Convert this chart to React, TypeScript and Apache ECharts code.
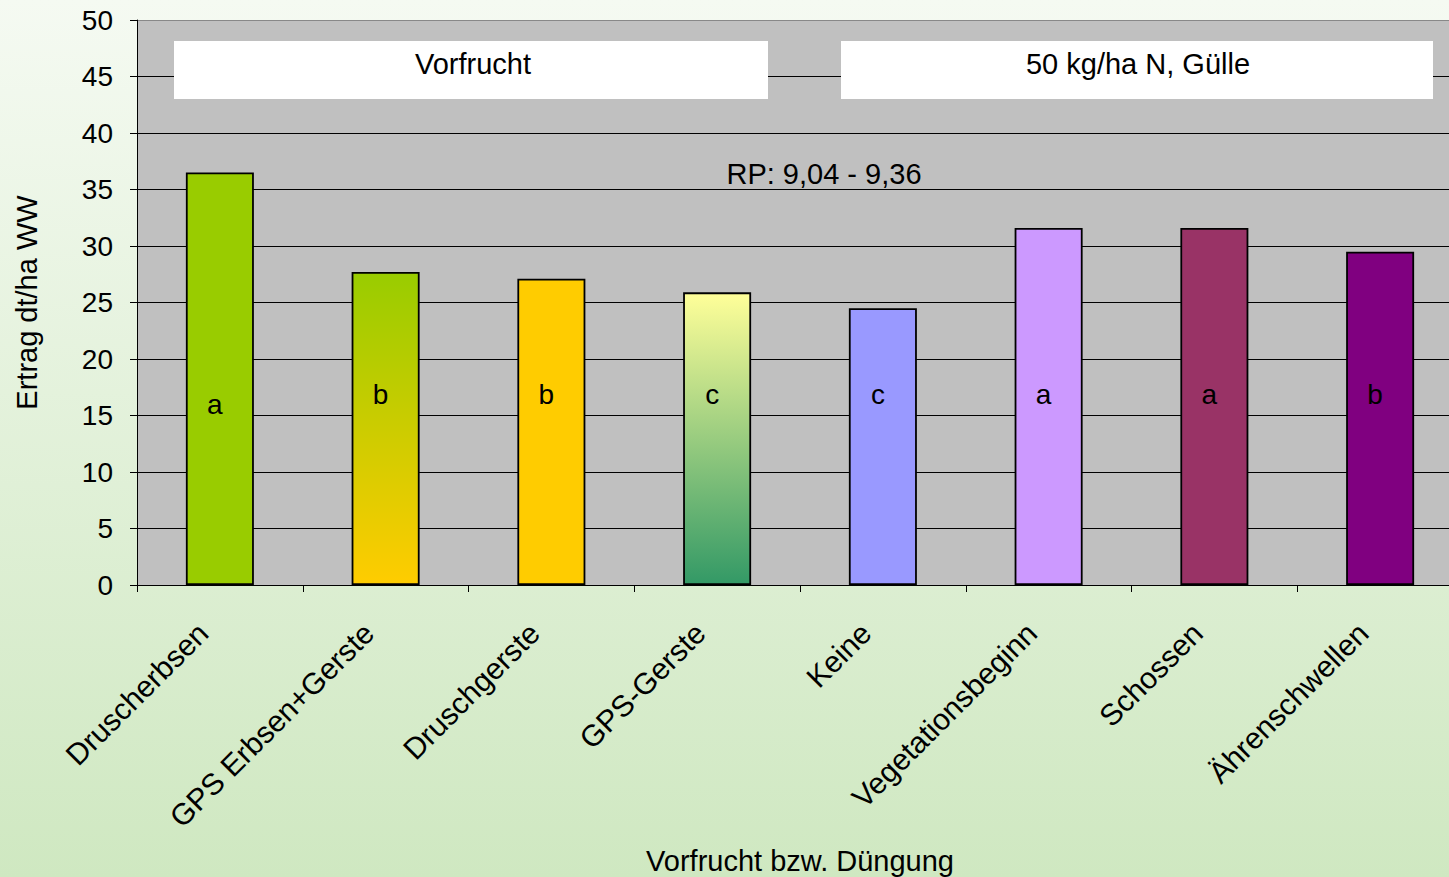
import React, { useEffect, useRef } from "react";
import * as echarts from "echarts";

const categories = [
  "Druscherbsen",
  "GPS Erbsen+Gerste",
  "Druschgerste",
  "GPS-Gerste",
  "Keine",
  "Vegetationsbeginn",
  "Schossen",
  "Ährenschwellen",
];
const yields = [36.5, 27.7, 27.1, 25.9, 24.5, 31.6, 31.6, 29.5];
const letters = ["a", "b", "b", "c", "c", "a", "a", "b"];
const yTicks = [0, 5, 10, 15, 20, 25, 30, 35, 40, 45, 50];
const boxTitles = ["Vorfrucht", "50 kg/ha N, Gülle"];
const rpText = "RP: 9,04 - 9,36";

const FONT = "'Liberation Sans', Arial, sans-serif";

const barColors: any[] = [
  "#99cc00",
  { type: "linear", x: 0, y: 0, x2: 0, y2: 1, colorStops: [{ offset: 0, color: "#99cc00" }, { offset: 1, color: "#ffcc00" }] },
  "#ffcc00",
  { type: "linear", x: 0, y: 0, x2: 0, y2: 1, colorStops: [{ offset: 0, color: "#ffff99" }, { offset: 1, color: "#339966" }] },
  "#9999ff",
  "#cc99ff",
  "#993366",
  "#800080",
];

export default function App() {
  const ref = useRef<HTMLDivElement>(null);
  useEffect(() => {
    document.body.style.margin = "0";
    const chart = echarts.init(ref.current!, null, { renderer: "svg" });
    chart.setOption({
      animation: false,
      backgroundColor: {
        type: "linear", x: 0, y: 0, x2: 0, y2: 1,
        colorStops: [
          { offset: 0, color: "#f5faf2" },
          { offset: 1, color: "#cfe8c1" },
        ],
      },
      textStyle: { fontFamily: FONT },
      grid: {
        left: 137, width: 1326, top: 20, bottom: 292,
        outerBoundsMode: "none",
        containLabel: false,
        show: true, backgroundColor: "#c0c0c0", borderWidth: 0,
      },
      xAxis: {
        type: "category",
        data: categories,
        axisLine: { show: true, lineStyle: { color: "#000", width: 1 } },
        axisTick: { show: true, length: 7, lineStyle: { color: "#000" } },
        axisLabel: {
          interval: 0, rotate: 45, fontSize: 30, color: "#000", fontFamily: FONT,
          margin: 26, padding: [0, 24, 0, 0],
        },
        name: "Vorfrucht bzw. Düngung",
        nameLocation: "middle",
        nameGap: 261,
        nameTextStyle: { fontSize: 29, color: "#000", fontFamily: FONT },
      },
      yAxis: {
        type: "value",
        min: 0, max: 50, interval: 5,
        axisLine: { show: true, lineStyle: { color: "#000", width: 1 } },
        axisTick: { show: true, length: 7, lineStyle: { color: "#000" } },
        axisLabel: {
          fontSize: 28, color: "#000", fontFamily: FONT, margin: 24,
          formatter: (v: number) => (yTicks.includes(v) ? String(v) : ""),
        },
        splitLine: {
          show: true,
          lineStyle: {
            color: ["#000", "#000", "#000", "#000", "#000", "#000", "#000", "#000", "#000", "#000", "#888"],
            width: 1,
          },
        },
        name: "Ertrag dt/ha WW",
        nameLocation: "middle",
        nameGap: 96,
        nameTextStyle: { fontSize: 29, color: "#000", fontFamily: FONT },
      },
      series: [
        {
          type: "bar",
          barWidth: 68,
          data: yields.map((v, i) => ({
            value: v,
            itemStyle: { color: barColors[i] },
            label: i === 0 ? { distance: 167 } : undefined,
          })),
          itemStyle: { borderColor: "#000", borderWidth: 1.8 },
          label: {
            show: true,
            position: "insideBottom",
            distance: 177,
            offset: [-5, 0],
            fontSize: 28,
            color: "#000",
            fontFamily: FONT,
            formatter: (p: any) => letters[p.dataIndex],
          },
        },
      ],
      graphic: [
        { type: "rect", shape: { x: 174, y: 41, width: 594, height: 58 }, style: { fill: "#fff" }, z: 10 },
        { type: "rect", shape: { x: 841, y: 41, width: 592, height: 58 }, style: { fill: "#fff" }, z: 10 },
        { type: "text", x: 473, y: 64, z: 11, style: { text: boxTitles[0], font: `29px ${FONT}`, fill: "#000", textAlign: "center", textVerticalAlign: "middle" } },
        { type: "text", x: 1138, y: 64, z: 11, style: { text: boxTitles[1], font: `29px ${FONT}`, fill: "#000", textAlign: "center", textVerticalAlign: "middle" } },
        { type: "text", x: 824, y: 174, z: 11, style: { text: rpText, font: `29px ${FONT}`, fill: "#000", textAlign: "center", textVerticalAlign: "middle" } },
      ],
    });
    return () => chart.dispose();
  }, []);
  return <div ref={ref} style={{ width: 1449, height: 877 }} />;
}
